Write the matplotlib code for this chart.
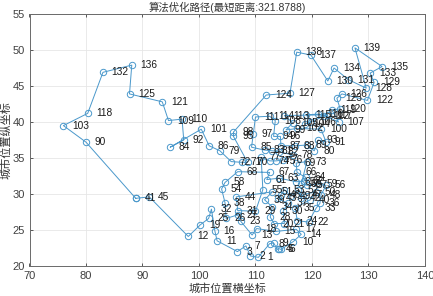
#算法优化路径 - 城市坐标与最短路径
import matplotlib
matplotlib.use("Agg")
import matplotlib.pyplot as plt

plt.rcParams['font.family'] = ['Liberation Sans', 'Noto Sans CJK SC', 'DejaVu Sans']

# 路径顺序: 城市编号, 横坐标, 纵坐标
city_id = [41, 45, 12, 19, 25, 32, 16, 11, 3, 7, 2, 1, 8, 9, 4, 5, 6, 10, 14, 17,
           15, 18, 13, 23, 27, 26, 38, 54, 58, 68, 67, 61, 63, 65, 62, 64, 66, 69, 73, 60,
           57, 59, 56, 48, 36, 33, 22, 24, 35, 40, 50, 47, 42, 52, 49, 53, 46, 43, 37, 30,
           21, 20, 28, 34, 39, 51, 44, 31, 29, 55, 77, 74, 75, 76, 78, 82, 81, 83, 85, 97,
           111, 114, 108, 94, 96, 87, 88, 89, 80, 93, 91, 100, 102, 99, 105, 113, 117, 104, 106, 115,
           116, 112, 107, 119, 120, 123, 126, 122, 129, 133, 135, 139, 128, 131, 134, 130, 137, 138, 127, 124,
           98, 95, 70, 71, 72, 79, 86, 101, 84, 92, 110, 109, 121, 125, 136, 132, 118, 103, 90]
city_x = [88.8, 91.2, 98.1, 100.2, 101.7, 102.2, 102.8, 103.2, 106.8, 108.3, 109.1, 110.5, 112.5, 113.2, 113.9, 114.2, 114.5, 116.7, 118.1, 117.2,
          113.6, 110.2, 109.4, 107.4, 106.85, 104.8, 104.6, 104.0, 104.6, 106.85, 112.5, 112.0, 114.2, 117.2, 118.6, 118.9, 117.35, 117.2, 119.1, 118.1,
          119.2, 121.0, 122.5, 121.6, 121.4, 120.7, 119.4, 117.4, 117.0, 119.7, 120.7, 118.4, 118.1, 117.6, 116.3, 115.1, 114.5, 113.9, 115.7, 114.9,
          115.1, 113.3, 112.6, 113.0, 111.6, 113.0, 106.6, 106.85, 110.0, 111.3, 111.0, 112.5, 113.6, 114.8, 116.6, 114.2, 113.0, 111.6, 109.3, 109.6,
          110.0, 112.5, 113.5, 113.2, 114.4, 114.5, 117.0, 119.1, 120.4, 121.1, 122.5, 121.6, 117.4, 115.4, 116.6, 115.1, 122.8, 118.7, 119.8, 119.0,
          121.1, 122.2, 124.7, 123.5, 125.0, 124.4, 125.3, 129.8, 131.0, 130.3, 132.4, 127.6, 129.6, 126.4, 123.9, 122.8, 119.8, 117.3, 116.1, 111.9,
          106.1, 106.1, 108.6, 107.6, 105.7, 103.7, 101.8, 100.4, 94.9, 97.3, 97.0, 94.6, 93.5, 87.7, 88.1, 83.0, 80.3, 76.0, 80.0]
city_y = [29.4, 29.6, 24.1, 25.7, 26.6, 27.9, 24.9, 23.5, 22.0, 22.8, 21.4, 21.2, 23.1, 23.2, 22.3, 22.4, 22.3, 23.4, 24.4, 25.1,
          24.8, 25.2, 24.3, 26.2, 27.1, 26.6, 28.8, 30.7, 31.6, 33.1, 33.0, 32.0, 32.2, 31.7, 31.8, 32.3, 33.0, 34.3, 34.5, 31.4,
          31.2, 31.4, 31.2, 29.9, 28.7, 28.0, 26.1, 26.3, 28.1, 29.2, 30.3, 29.9, 29.4, 30.5, 29.7, 30.6, 29.9, 29.4, 28.7, 27.6,
          25.9, 25.9, 26.8, 28.2, 29.2, 30.3, 29.6, 27.7, 27.6, 30.6, 35.1, 34.6, 34.6, 34.7, 35.4, 35.9, 36.0, 36.1, 36.5, 38.3,
          40.7, 40.8, 40.2, 38.0, 38.0, 36.7, 36.7, 36.8, 36.0, 37.5, 37.2, 39.0, 39.1, 38.9, 39.9, 40.9, 41.0, 39.7, 40.0, 41.0,
          41.1, 40.9, 40.0, 41.7, 41.8, 43.3, 43.9, 43.0, 45.5, 46.8, 47.7, 50.3, 44.7, 45.9, 47.5, 45.7, 49.3, 49.7, 44.0, 43.75,
          38.6, 38.0, 34.4, 34.4, 34.5, 36.0, 36.7, 39.0, 36.5, 37.5, 40.4, 40.2, 42.8, 43.9, 47.9, 46.9, 41.2, 39.5, 37.2]
x_ticks = [70, 80, 90, 100, 110, 120, 130, 140]
y_ticks = [20, 25, 30, 35, 40, 45, 50, 55]

fig = plt.figure(figsize=(4.33, 2.96), dpi=100)
ax = fig.add_axes([29.5 / 433, 1 - 266 / 296, 395.5 / 433, 252 / 296])

# 路径闭合
ax.plot(city_x + city_x[:1], city_y + city_y[:1], color="#4a98cb", linewidth=0.7,
        marker="o", markersize=4.6, markerfacecolor="none", markeredgewidth=0.7)
for name, cx, cy in zip(city_id, city_x, city_y):
    ax.text(cx + 1.55, cy, str(name), fontsize=7.3, color="#1a1a1a", va="center", ha="left")

ax.set_xlim(70, 140)
ax.set_ylim(20, 55)
ax.set_xticks(x_ticks)
ax.set_yticks(y_ticks)
ax.tick_params(direction="in", top=True, right=True, length=2.5, width=0.6,
               colors="#404040", labelsize=8, pad=3.5)
ax.grid(color="#e6e6e6", linewidth=0.6)
ax.set_axisbelow(True)
for s in ax.spines.values():
    s.set_color("#6a6a6a")
    s.set_linewidth(0.7)
ax.set_title("算法优化路径(最短距离:321.8788)", fontsize=7.5, color="#333333", pad=2.5)
ax.set_xlabel("城市位置横坐标", fontsize=8, color="#333333", labelpad=2)
ax.set_ylabel("城市位置纵坐标", fontsize=8, color="#333333", labelpad=0.5)

fig.savefig("out.png", dpi=100)
